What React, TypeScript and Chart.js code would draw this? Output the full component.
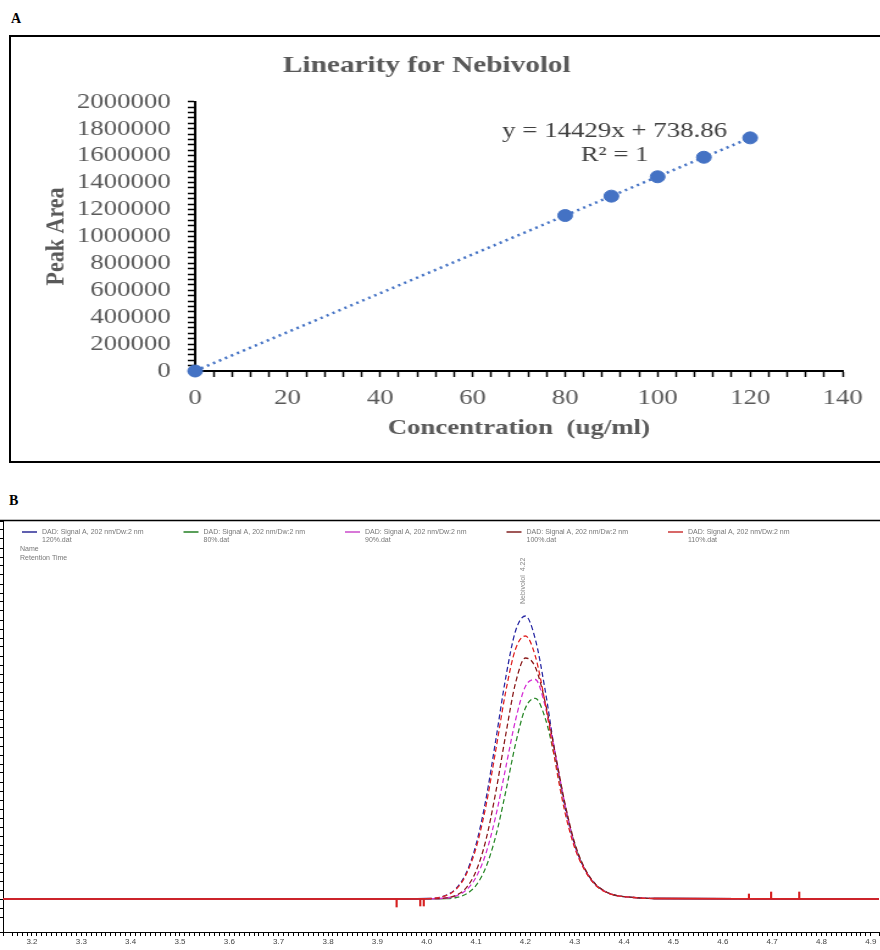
import { useEffect, useRef } from 'react';
import { Chart, registerables } from 'chart.js';

Chart.register(...registerables);

// ---------- Panel A: linearity ----------
const concentrations = [0, 80, 90, 100, 110, 120];
const peakAreas = [0, 1155000, 1299000, 1443000, 1588000, 1732000];
const trendConc = [0, 120];
const trendArea = [738.86, 1732218.86];
const equationLines = ['y = 14429x + 738.86', 'R\u00B2 = 1'];
const equationAnchorX = 90.7;
const equationAnchorY = [1784000, 1606000];

// ---------- Panel B: overlaid chromatograms ----------
const retentionTimes = [3.14, 3.9, 4.0, 4.04, 4.06, 4.08, 4.1, 4.12, 4.14, 4.16, 4.18, 4.2, 4.22, 4.24, 4.26, 4.28, 4.3, 4.32, 4.34, 4.36, 4.38, 4.42, 4.46, 4.92];
const signal120 = [0, 0, 0.5, 3.9, 10.8, 26, 54.5, 99.7, 159, 221, 268, 283, 260, 209, 146, 92, 54, 30, 16, 8, 4, 1.5, 0.5, 0];
const signal80 = [0, 0, 0.1, 0.4, 1.5, 5, 13.6, 31.8, 63, 107, 155, 191, 200.7, 181, 140.5, 94, 54.5, 30, 15, 8, 4, 1.5, 0.5, 0];
const signal90 = [0, 0, 0.2, 1.0, 3.2, 9, 21.8, 45.6, 83, 131, 179, 212.5, 219.5, 193, 146.5, 95, 53, 30, 15, 8, 4, 1.5, 0.5, 0];
const signal100 = [0, 0, 0.2, 1.1, 3.8, 11.2, 27.9, 59, 107, 164, 216, 241, 232, 197, 147, 96, 56, 31, 16, 8, 4, 1.5, 0.5, 0];
const signal110 = [0, 0, 0.4, 3.6, 10, 24.5, 51, 93, 149, 207, 250, 263, 243, 196, 138, 87, 51, 29, 15, 7.5, 4, 1.5, 0.5, 0];
const spikeTimes = [3.939, 3.987, 3.994, 4.653, 4.698, 4.755];
const spikeHeights = [-8, -7, -7, 5, 7, 7];
const seriesLabels = ['120%.dat', '80%.dat', '90%.dat', '100%.dat', '110%.dat'];
const signalName = 'DAD: Signal A, 202 nm/Dw:2 nm';
const peakLabel = 'Nebivolol  4.22';
const peakLabelTime = 4.196;
const peakLabelLevel = 295;

const serif = '"Liberation Serif", "Times New Roman", serif';
const sans = '"Liberation Sans", Arial, sans-serif';

const toXY = (xs: number[], ys: number[]) => xs.map((x, i) => ({ x, y: ys[i] }));

export default function App() {
  const refA = useRef<HTMLCanvasElement>(null);
  const refB = useRef<HTMLCanvasElement>(null);

  useEffect(() => {
    const equationPlugin = {
      id: 'equation',
      afterDatasetsDraw(chart: any) {
        const { ctx, scales } = chart;
        ctx.save();
        ctx.font = `22px ${serif}`;
        ctx.fillStyle = '#404040';
        ctx.textAlign = 'center';
        ctx.textBaseline = 'middle';
        equationLines.forEach((t, i) => {
          ctx.fillText(t, scales.x.getPixelForValue(equationAnchorX), scales.y.getPixelForValue(equationAnchorY[i]));
        });
        ctx.restore();
      },
    };

    const chartA = new Chart(refA.current!, {
      type: 'scatter',
      data: {
        datasets: [
          {
            label: 'Peak Area',
            data: toXY(concentrations, peakAreas),
            backgroundColor: '#4472C4',
            borderColor: '#4472C4',
            pointRadius: 6,
            pointHoverRadius: 6,
            clip: false as any,
            order: 0,
          },
          {
            label: 'Linear trend',
            data: toXY(trendConc, trendArea),
            showLine: true,
            borderColor: '#4472C4',
            borderWidth: 2.5,
            borderDash: [2, 3.5],
            pointRadius: 0,
            order: 1,
          } as any,
        ],
      },
      options: {
        animation: false,
        responsive: false,
        events: [],
        layout: { padding: { left: 0, right: 29, top: 0, bottom: 0 } },
        plugins: {
          legend: { display: false },
          tooltip: { enabled: false },
          title: {
            display: true,
            text: 'Linearity for Nebivolol',
            color: '#595959',
            font: { family: serif, size: 24, weight: 'bold' },
            padding: { top: 14, bottom: 22 },
          },
        },
        scales: {
          x: {
            type: 'linear',
            min: 0,
            max: 140,
            afterFit: (s: any) => { s.height = 90; },
            border: { display: true, color: '#000', width: 2 },
            grid: { drawOnChartArea: false, tickLength: 6, tickColor: '#000', tickWidth: 1.5 },
            ticks: {
              stepSize: 4,
              autoSkip: false,
              maxRotation: 0,
              padding: 8,
              color: '#595959',
              font: { family: serif, size: 22 },
              callback: (v: any) => (Number(v) % 20 === 0 ? String(v) : ''),
            },
            title: {
              display: true,
              text: 'Concentration  (ug/ml)',
              color: '#595959',
              font: { family: serif, size: 22, weight: 'bold' },
              padding: { top: 0, bottom: 19 },
            },
          },
          y: {
            type: 'linear',
            min: 0,
            max: 2000000,
            afterFit: (s: any) => { s.width = 151; },
            border: { display: true, color: '#000', width: 2 },
            grid: { drawOnChartArea: false, tickLength: 6, tickColor: '#000', tickWidth: 1.5 },
            ticks: {
              stepSize: 40000,
              autoSkip: false,
              padding: 14,
              color: '#595959',
              font: { family: serif, size: 22 },
              callback: (v: any) => (Number(v) % 200000 === 0 ? String(v) : ''),
            },
            title: {
              display: true,
              text: 'Peak Area',
              color: '#595959',
              font: { family: serif, size: 22, weight: 'bold' },
              padding: { top: 24.5, bottom: 0 },
            },
          },
        },
      },
      plugins: [equationPlugin],
    } as any);

    const decorPlugin = {
      id: 'decor',
      afterDraw(chart: any) {
        const { ctx, chartArea, scales, width } = chart;
        ctx.save();
        // top frame line
        ctx.strokeStyle = '#000';
        ctx.lineWidth = 1.5;
        ctx.beginPath();
        ctx.moveTo(0, chartArea.top - 0.5);
        ctx.lineTo(width, chartArea.top - 0.5);
        ctx.stroke();
        // legend
        const legendColors = ['#6060b0', '#5a9f5a', '#d878d8', '#a05858', '#d86868'];
        ctx.font = `7px ${sans}`;
        ctx.textBaseline = 'middle';
        ctx.textAlign = 'left';
        seriesLabels.forEach((lab, i) => {
          const x0 = 22 + i * 161.5;
          ctx.strokeStyle = legendColors[i];
          ctx.lineWidth = 2;
          ctx.beginPath();
          ctx.moveTo(x0, 13);
          ctx.lineTo(x0 + 15, 13);
          ctx.stroke();
          ctx.fillStyle = '#777';
          ctx.fillText(signalName, x0 + 20, 13);
          ctx.fillText(lab, x0 + 20, 21);
        });
        ctx.fillText('Name', 20, 30);
        ctx.fillText('Retention Time', 20, 39);
        // peak label
        ctx.translate(scales.x.getPixelForValue(peakLabelTime), scales.y.getPixelForValue(peakLabelLevel));
        ctx.rotate(-Math.PI / 2);
        ctx.fillStyle = '#888';
        ctx.fillText(peakLabel, 0, 0);
        ctx.restore();
      },
    };

    const dashed = (c: any) => (c.p0.parsed.y > 1 || c.p1.parsed.y > 1 ? [5, 3] : undefined);
    const lineDs = (label: string, values: number[], color: string, order: number) => ({
      type: 'line',
      label,
      data: toXY(retentionTimes, values),
      borderColor: color,
      borderWidth: 1.3,
      borderDash: [],
      pointRadius: 0,
      cubicInterpolationMode: 'monotone',
      segment: { borderDash: dashed },
      order,
    });

    const chartB = new Chart(refB.current!, {
      type: 'line',
      data: {
        datasets: [
          lineDs(seriesLabels[0], signal120, '#2b2ba5', 4),
          lineDs(seriesLabels[1], signal80, '#2e8b2e', 3),
          lineDs(seriesLabels[2], signal90, '#d633d6', 2),
          lineDs(seriesLabels[3], signal100, '#8b1c1c', 1),
          lineDs(seriesLabels[4], signal110, '#e02424', 0),
          {
            type: 'bar',
            label: 'spikes',
            data: toXY(spikeTimes, spikeHeights),
            backgroundColor: '#d62020',
            barThickness: 1.5,
            order: -1,
          },
        ],
      },
      options: {
        animation: false,
        responsive: false,
        events: [],
        layout: { padding: { left: 0, right: 0, top: 2, bottom: 0 } },
        plugins: { legend: { display: false }, tooltip: { enabled: false }, title: { display: false } },
        scales: {
          x: {
            type: 'linear',
            min: 3.1413,
            max: 4.9166,
            offset: false,
            afterFit: (s: any) => { s.height = 18; },
            border: { display: true, color: '#000', width: 1 },
            grid: { drawOnChartArea: false, offset: false, tickLength: 4, tickColor: '#000', tickWidth: 1 },
            ticks: {
              stepSize: 0.01,
              autoSkip: false,
              maxRotation: 0,
              minRotation: 0,
              padding: 1,
              color: '#444',
              font: { family: sans, size: 8 },
              callback: (v: any) => {
                const r = Math.round(Number(v) * 10);
                return Math.abs(Number(v) * 10 - r) < 1e-6 ? (r / 10).toFixed(1) : '';
              },
            },
          },
          y: {
            type: 'linear',
            min: -33,
            max: 378,
            afterFit: (s: any) => { s.width = 3; },
            border: { display: true, color: '#000', width: 1 },
            grid: { drawOnChartArea: false, tickLength: 3, tickColor: '#000', tickWidth: 1 },
            ticks: { display: false, stepSize: 9 },
          },
        },
      },
      plugins: [decorPlugin],
    } as any);

    return () => {
      chartA.destroy();
      chartB.destroy();
    };
  }, []);

  return (
    <div style={{ position: 'absolute', left: 0, top: 0, width: 880, height: 950, background: '#fff', overflow: 'hidden' }}>
      <div style={{ position: 'absolute', left: 11, top: 11, font: `bold 14px ${serif}`, color: '#000' }}>A</div>
      <div style={{ position: 'absolute', left: 9, top: 35, width: 876, height: 428, border: '2px solid #000', boxSizing: 'border-box' }} />
      <canvas ref={refA} width={711} height={424} style={{ position: 'absolute', left: 11, top: 37, width: '867px', height: '424px' }} />
      <div style={{ position: 'absolute', left: 9, top: 493, font: `bold 14px ${serif}`, color: '#000' }}>B</div>
      <canvas ref={refB} width={880} height={431} style={{ position: 'absolute', left: 0, top: 519, width: '880px', height: '431px' }} />
    </div>
  );
}
